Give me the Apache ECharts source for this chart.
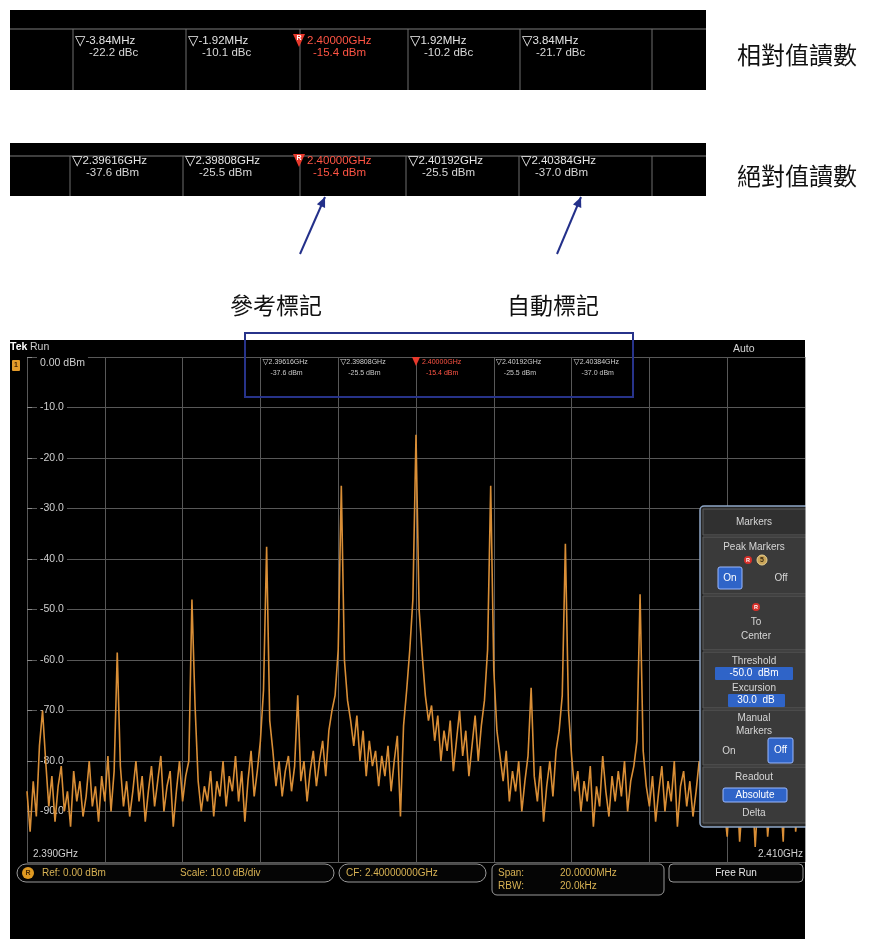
<!DOCTYPE html>
<html>
<head>
<meta charset="utf-8">
<script src="https://cdn.jsdelivr.net/npm/echarts@6/dist/echarts.min.js"></script>
<style>
html, body { margin: 0; padding: 0; background: #ffffff; }
#chart { width: 877px; height: 939px; }
</style>
</head>
<body>
<div id="chart"></div>
<script>
// Sweep settings (MHz)
const freqStartMHz = 2390;
const freqStopMHz = 2410;
const freqDivMHz = 2;
const binMHz = 0.08;

// Reference level / scale (dBm)
const refLevelDbm = 0;
const bottomDbm = -100;
const dbPerDiv = 10;

// Measured trace, one value per frequency bin (dBm)
const traceDbm = [
  -86, -94, -84, -91, -77, -70, -80, -89, -83, -92,
  -85, -81, -90, -86, -93, -82, -88, -84, -91, -87,
  -80, -89, -85, -92, -83, -88, -79, -90, -82, -58.5,
  -81, -89, -84, -91, -86, -80, -88, -83, -92, -86,
  -81, -89, -84, -79, -90, -85, -82, -93, -86, -80,
  -88, -83, -80, -48, -69, -84, -90, -85, -88, -82,
  -91, -84, -87, -80, -89, -83, -86, -79, -88, -82,
  -92, -84, -78, -87, -82, -76, -66, -37.6, -72, -78,
  -85, -80, -87, -82, -79, -86, -81, -67, -84, -80,
  -88, -82, -78, -85, -80, -76, -83, -74, -70, -67,
  -58, -25.5, -60, -68, -72, -77, -71, -80, -74, -83,
  -76, -81, -78, -85, -79, -83, -77, -86, -80, -75,
  -91, -73, -66, -58, -48, -15.4, -50, -59, -67, -72,
  -69, -76, -71, -80, -74, -78, -72, -82, -76, -70,
  -79, -74, -83, -77, -71, -80, -73, -68, -58, -25.5,
  -62, -74, -79, -84, -78, -88, -82, -86, -80, -90,
  -84, -79, -65.5, -83, -88, -81, -92, -85, -80, -87,
  -78, -74, -67, -37.0, -70, -79, -86, -82, -90, -84,
  -88, -81, -93, -85, -89, -79, -86, -91, -83, -88,
  -82, -87, -80, -90, -84, -81, -76, -47, -78, -85,
  -89, -83, -92, -86, -81, -90, -84, -88, -80, -93,
  -85, -82, -89, -84, -91, -86, -80, -88, -83, -79,
  -70, -58, -72, -84, -89, -95, -85, -90, -83, -96,
  -87, -82, -91, -85, -97, -86, -89, -83, -95, -88,
  -84, -92, -86, -96, -78, -70, -80, -94, -87, -91,
  -85
];

// Peak marker readouts
const refMarkerIndex = 2;
const relFreqText = ['-3.84MHz', '-1.92MHz', '2.40000GHz', '1.92MHz', '3.84MHz'];
const relLevelText = ['-22.2 dBc', '-10.1 dBc', '-15.4 dBm', '-10.2 dBc', '-21.7 dBc'];
const absFreqText = ['2.39616GHz', '2.39808GHz', '2.40000GHz', '2.40192GHz', '2.40384GHz'];
const absLevelText = ['-37.6 dBm', '-25.5 dBm', '-15.4 dBm', '-25.5 dBm', '-37.0 dBm'];
const readoutColumnMHz = [2396, 2398, 2400, 2402, 2404];

// Captions
const relCaption = '相對值讀數';
const absCaption = '絕對值讀數';
const refCaption = '參考標記';
const autoCaption = '自動標記';

// ---------------------------------------------------------------
const UI = '"Liberation Sans", "DejaVu Sans", Arial, sans-serif';
const CJK = '"Noto Sans CJK TC", "Noto Sans CJK SC", sans-serif';
const GRID = { left: 27, top: 357, width: 778, height: 505 };
const RED = '#ff5444';

const traceData = traceDbm.map((v, i) => [freqStartMHz + i * binMHz, v]);

const g = [];
function rect(x, y, w, h, fill, stroke, lw, r, z) {
  g.push({ type: 'rect', z: z, shape: { x: x, y: y, width: w, height: h, r: r || 0 },
    style: { fill: fill, stroke: stroke || null, lineWidth: lw || 0 } });
}
function seg(x1, y1, x2, y2, stroke, lw, z) {
  g.push({ type: 'line', z: z, shape: { x1: x1, y1: y1, x2: x2, y2: y2 },
    style: { stroke: stroke, lineWidth: lw } });
}
function txt(x, y, s, size, color, align, z, family, weight, rich) {
  const st = { text: s, fill: color, font: (weight || 'normal') + ' ' + size + 'px ' + (family || UI),
    align: align || 'left', verticalAlign: 'middle' };
  if (rich) st.rich = rich;
  g.push({ type: 'text', x: x, y: y, z: z, style: st });
}
function poly(points, fill, z, stroke, lw) {
  g.push({ type: 'polygon', z: z, shape: { points: points },
    style: { fill: fill, stroke: stroke || null, lineWidth: lw || 0 } });
}
function circ(cx, cy, r, fill, z, stroke) {
  g.push({ type: 'circle', z: z, shape: { cx: cx, cy: cy, r: r },
    style: { fill: fill, stroke: stroke || null, lineWidth: stroke ? 1 : 0 } });
}

// Marker readout bar (relative / absolute)
function readoutBar(top, height, sepY, cols, row1, row2, freqs, levels, size) {
  rect(10, top, 696, height, '#000000', null, 0, 0, 5);
  seg(10, sepY, 706, sepY, '#7c7c7c', 1.2, 6);
  cols.forEach(x => seg(x, sepY, x, top + height, '#6e6e6e', 1, 6));
  for (let k = 0; k < freqs.length; k++) {
    const lx = cols[k];
    if (k === refMarkerIndex) {
      poly([[lx - 7, row1 - 7], [lx + 5, row1 - 7], [lx - 1, row1 + 6]], '#e8392c', 8);
      txt(lx - 1, row1 - 2.5, 'R', 7, '#ffffff', 'center', 9, UI, 'bold');
      txt(lx + 7, row1, freqs[k], size, RED, 'left', 8);
      txt(lx + 13, row2, levels[k], size, RED, 'left', 8);
    } else {
      txt(lx + 2, row1, '{t|▽}{f|' + freqs[k] + '}', size, '#e4e4e4', 'left', 8, UI, 'normal', {
        t: { fontSize: size + 2, fill: '#f0f0f0', fontFamily: '"DejaVu Sans", sans-serif' },
        f: { fontSize: size, fill: '#e4e4e4', fontFamily: UI }
      });
      txt(lx + 16, row2, levels[k], size, '#d8d8d8', 'left', 8);
    }
  }
}

readoutBar(10, 80, 29, [73, 186, 300, 408, 520, 652], 41, 53, relFreqText, relLevelText, 11.5);
readoutBar(143, 53, 156, [70, 183, 300, 406, 519, 652], 161, 173, absFreqText, absLevelText, 11.5);

txt(737, 55, relCaption, 24, '#111111', 'left', 5, CJK);
txt(737, 176, absCaption, 24, '#111111', 'left', 5, CJK);

// Pointer arrows to the readouts
const NAVY = '#23308a';
function arrow(x1, y1, x2, y2) {
  seg(x1, y1, x2, y2, NAVY, 2, 5);
  const dx = x2 - x1, dy = y2 - y1, L = Math.hypot(dx, dy);
  const ux = dx / L, uy = dy / L, bx = x2 - ux * 10, by = y2 - uy * 10;
  poly([[x2, y2], [bx + uy * 4.5, by - ux * 4.5], [bx - uy * 4.5, by + ux * 4.5]], NAVY, 5);
}
arrow(300, 254, 325, 197);
arrow(557, 254, 581, 197);
txt(276, 305, refCaption, 23, '#111111', 'center', 5, CJK);
txt(553, 305, autoCaption, 23, '#111111', 'center', 5, CJK);

// Instrument screen background
rect(10, 340, 795, 599, '#000000', null, 0, 0, -10);

// Top strip of the screen
txt(10, 347, 'Tek', 10.5, '#ffffff', 'left', 20, UI, 'bold');
txt(30, 347, 'Run', 10.5, '#cfcfcf', 'left', 20);
rect(12, 360, 8, 11, '#e39a2a', null, 0, 1, 20);
txt(16, 365.5, '1', 7, '#402000', 'center', 21, UI, 'bold');
txt(733, 349, 'Auto', 10.5, '#d4d4d4', 'left', 20);

// On-screen marker readouts, one column per graticule division
const pxOf = f => GRID.left + (f - freqStartMHz) / (freqStopMHz - freqStartMHz) * GRID.width;
readoutColumnMHz.forEach((f, k) => {
  const x = pxOf(f);
  if (k === refMarkerIndex) {
    poly([[x - 4, 357], [x + 4, 357], [x, 366]], '#e8392c', 20);
    txt(x + 6, 362, absFreqText[k], 7, RED, 'left', 20);
    txt(x + 10, 373, absLevelText[k], 7, RED, 'left', 20);
  } else {
    txt(x + 2, 362, '{t|▽}{f|' + absFreqText[k] + '}', 7, '#d0d0d0', 'left', 20, UI, 'normal', {
      t: { fontSize: 8, fill: '#d8d8d8', fontFamily: '"DejaVu Sans", sans-serif' },
      f: { fontSize: 7, fill: '#d0d0d0', fontFamily: UI }
    });
    txt(x + 10, 373, absLevelText[k], 7, '#c8c8c8', 'left', 20);
  }
});

// Markers side menu
const PANEL_TXT = '#d6d6d6';
const BTN = '#2f64c8';
rect(700, 506, 112, 321, '#262626', '#8ea6c6', 1.5, 4, 50);
rect(703, 509, 106, 26, '#303030', '#5c5c5c', 1, 0, 51);
rect(703, 537, 106, 57, '#3a3a3a', '#5c5c5c', 1, 0, 51);
rect(703, 596, 106, 54, '#3a3a3a', '#5c5c5c', 1, 0, 51);
rect(703, 652, 106, 56, '#3a3a3a', '#5c5c5c', 1, 0, 51);
rect(703, 710, 106, 55, '#3a3a3a', '#5c5c5c', 1, 0, 51);
rect(703, 767, 106, 56, '#3a3a3a', '#5c5c5c', 1, 0, 51);
txt(754, 522, 'Markers', 10, PANEL_TXT, 'center', 52);
txt(754, 547, 'Peak Markers', 10, PANEL_TXT, 'center', 52);
circ(748, 560, 4, '#d8302a', 52);
txt(748, 560, 'R', 5.5, '#ffffff', 'center', 53, UI, 'bold');
circ(762, 560, 5, '#c9a458', 52, '#e8d090');
txt(762, 560.5, '5', 7, '#3a2a10', 'center', 53, UI, 'bold');
rect(718, 567, 24, 22, BTN, '#9ab8ff', 1, 2, 52);
txt(730, 578, 'On', 10, '#ffffff', 'center', 53);
txt(781, 578, 'Off', 10, PANEL_TXT, 'center', 52);
circ(756, 607, 4, '#d8302a', 52);
txt(756, 607, 'R', 5.5, '#ffffff', 'center', 53, UI, 'bold');
txt(756, 622, 'To', 10, PANEL_TXT, 'center', 52);
txt(756, 636, 'Center', 10, PANEL_TXT, 'center', 52);
txt(754, 661, 'Threshold', 10, PANEL_TXT, 'center', 52);
rect(715, 667, 78, 13, BTN, null, 0, 1, 52);
txt(754, 673.5, '-50.0  dBm', 10, '#ffffff', 'center', 53);
txt(754, 688, 'Excursion', 10, PANEL_TXT, 'center', 52);
rect(728, 694, 57, 13, BTN, null, 0, 1, 52);
txt(756, 700.5, '30.0  dB', 10, '#ffffff', 'center', 53);
txt(754, 718, 'Manual', 10, PANEL_TXT, 'center', 52);
txt(754, 731, 'Markers', 10, PANEL_TXT, 'center', 52);
txt(729, 751, 'On', 10, PANEL_TXT, 'center', 52);
rect(768, 738, 25, 25, BTN, '#9ab8ff', 1, 2, 52);
txt(780.5, 750.5, 'Off', 10, '#ffffff', 'center', 53);
txt(754, 777, 'Readout', 10, PANEL_TXT, 'center', 52);
rect(723, 788, 64, 14, BTN, '#9ab8ff', 1, 2, 52);
txt(755, 795, 'Absolute', 10, '#ffffff', 'center', 53);
txt(754, 813, 'Delta', 10, PANEL_TXT, 'center', 52);

// Status bar under the graticule
const GOLD = '#d8b254';
rect(17, 864, 317, 18, '#050505', '#9a9a9a', 1, 9, 20);
circ(28, 873, 6, '#e09a22', 21);
txt(28, 873, 'R', 7, '#4a2a00', 'center', 22, UI, 'bold');
txt(42, 873, 'Ref: 0.00 dBm', 10, GOLD, 'left', 21);
txt(180, 873, 'Scale: 10.0 dB/div', 10, GOLD, 'left', 21);
rect(339, 864, 147, 18, '#050505', '#9a9a9a', 1, 9, 20);
txt(346, 873, 'CF: 2.40000000GHz', 10, GOLD, 'left', 21);
rect(492, 864, 172, 31, '#050505', '#9a9a9a', 1, 5, 20);
txt(498, 873, 'Span:', 10, GOLD, 'left', 21);
txt(560, 873, '20.0000MHz', 10, GOLD, 'left', 21);
txt(498, 886, 'RBW:', 10, GOLD, 'left', 21);
txt(560, 886, '20.0kHz', 10, GOLD, 'left', 21);
rect(669, 864, 134, 18, '#050505', '#9a9a9a', 1, 4, 20);
txt(736, 873, 'Free Run', 10, '#e6e6e6', 'center', 21);

// Annotation frame around the on-screen readouts
rect(245, 333, 388, 64, null, '#27338a', 2, 0, 55);

// Screen edge: page is white beyond the right border
rect(805.5, 334, 72, 605, '#ffffff', null, 0, 0, 60);

// ---------------------------------------------------------------
const chart = echarts.init(document.getElementById('chart'), null, { renderer: 'canvas', width: 877, height: 939 });
chart.setOption({
  backgroundColor: '#ffffff',
  animation: false,
  grid: { left: GRID.left, top: GRID.top, width: GRID.width, height: GRID.height, containLabel: false },
  xAxis: {
    type: 'value', min: freqStartMHz, max: freqStopMHz, interval: freqDivMHz,
    axisLine: { show: false }, axisTick: { show: false },
    splitLine: { show: true, lineStyle: { color: '#585858', width: 1 } },
    axisLabel: {
      inside: true, margin: 3, color: '#d0d0d0', fontSize: 10, fontFamily: UI,
      showMinLabel: true, showMaxLabel: true,
      alignMinLabel: 'left', alignMaxLabel: 'right',
      padding: [0, 2, 0, 6],
      formatter: v => (v === freqStartMHz || v === freqStopMHz) ? (v / 1000).toFixed(3) + 'GHz' : ''
    }
  },
  yAxis: {
    type: 'value', min: bottomDbm, max: refLevelDbm, interval: dbPerDiv,
    axisLine: { show: false },
    axisTick: { show: true, inside: true, length: 5, lineStyle: { color: '#8a8a8a' } },
    splitLine: { show: true, lineStyle: { color: '#585858', width: 1 } },
    axisLabel: {
      inside: true, margin: 10, color: '#cfcfcf', fontSize: 10.5, fontFamily: UI,
      showMinLabel: false, verticalAlignMaxLabel: 'top',
      backgroundColor: '#000000', padding: [1, 3, 1, 3],
      formatter: v => v === refLevelDbm ? refLevelDbm.toFixed(2) + ' dBm' : v.toFixed(1)
    }
  },
  series: [{
    type: 'line',
    data: traceData,
    symbol: 'none',
    showSymbol: false,
    clip: true,
    z: 3,
    lineStyle: { color: '#d98e36', width: 1.6 }
  }],
  graphic: { elements: g }
});
</script>
</body>
</html>
